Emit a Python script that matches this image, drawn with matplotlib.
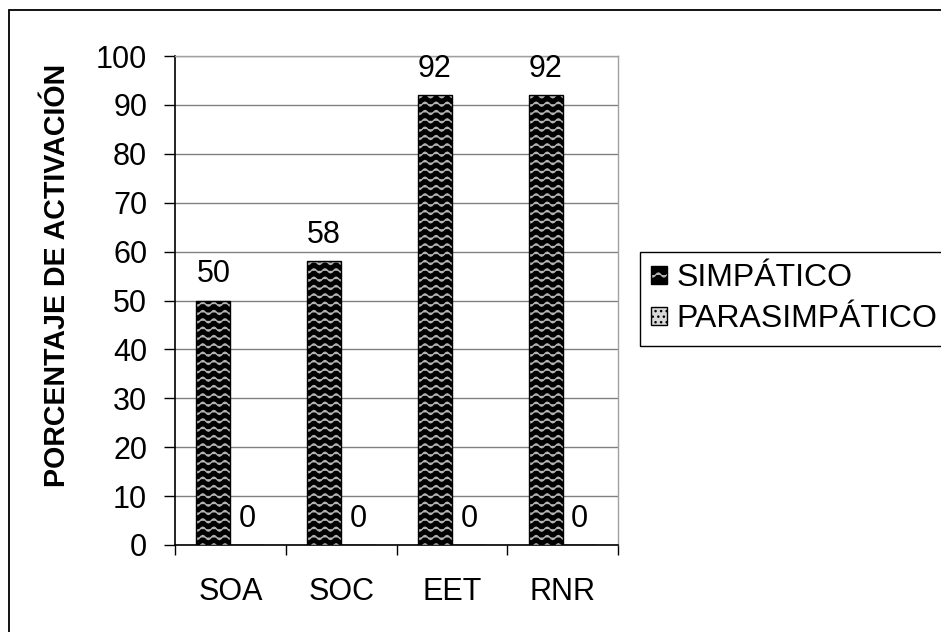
import numpy as np
import matplotlib
matplotlib.use("Agg")
import matplotlib.pyplot as plt
from matplotlib import hatch as mhatch
from matplotlib.path import Path
from matplotlib.patches import Patch, Rectangle

# ---- data ----
categories = ["SOA", "SOC", "EET", "RNR"]
simpatico = [50, 58, 92, 92]
parasimpatico = [0, 0, 0, 0]
series_names = ["SIMPÁTICO", "PARASIMPÁTICO"]
y_label = "PORCENTAJE DE ACTIVACIÓN"
y_ticks = list(range(0, 101, 10))

# ---- custom wavy hatch ----
class WaveHatch(mhatch.HatchPatternBase):
    def __init__(self, hatch, density):
        self.num_rows = int(hatch.count('w') * density)
        self.periods = 9
        self.pts = self.periods * 8 + 1
        self.num_vertices = self.num_rows * self.pts if self.num_rows else 0

    def set_vertices_and_codes(self, vertices, codes):
        xs = np.linspace(0.0, 1.0, self.pts)
        amp = 0.02
        for r in range(self.num_rows):
            y0 = (r + 0.5) / self.num_rows
            sl = slice(r * self.pts, (r + 1) * self.pts)
            vertices[sl, 0] = xs
            vertices[sl, 1] = y0 + amp * np.sin(2 * np.pi * self.periods * xs)
            codes[sl] = Path.LINETO
            codes[r * self.pts] = Path.MOVETO

mhatch._hatch_types.append(WaveHatch)
mhatch._validate_hatch_pattern = lambda h: None

plt.rcParams['font.family'] = ['Liberation Sans', 'DejaVu Sans']
plt.rcParams['hatch.linewidth'] = 1.0

FS = 22
W, H = 941, 632
fig = plt.figure(figsize=(W / 100, H / 100), dpi=100)
ax = fig.add_axes([175 / W, 1 - 545 / H, (618 - 175) / W, (545 - 56) / H])

x = np.arange(len(categories))
bw = 0.307
xs1 = x + 0.5 - bw / 2
xs2 = x + 0.5 + bw / 2

ax.bar(xs1, simpatico, bw, color='black', edgecolor='#b4b4b4', hatch='ww', linewidth=0, zorder=3)
ax.bar(xs1, simpatico, bw, fill=False, edgecolor='black', linewidth=1.0, zorder=4)
ax.bar(xs2, parasimpatico, bw, color='#d8d8d8', edgecolor='black', hatch='..', linewidth=1.0, zorder=3)

for xi, v in zip(xs1, simpatico):
    ax.annotate(str(v), (xi, v), xytext=(0, 13), textcoords='offset points',
                ha='center', va='baseline', fontsize=FS)
for xi, v in zip(xs2, parasimpatico):
    ax.annotate(str(v), (xi, v), xytext=(0, 13), textcoords='offset points',
                ha='center', va='baseline', fontsize=FS)

ax.set_xlim(0, len(categories))
ax.set_ylim(0, 100)
ax.set_yticks(y_ticks)
ax.set_yticklabels([str(t) for t in y_ticks], fontsize=FS)
ax.tick_params(axis='y', direction='out', length=8, width=1.0, pad=12)

ax.set_xticks(np.arange(len(categories) + 1))
ax.set_xticklabels([''] * (len(categories) + 1))
ax.set_xticks(x + 0.5, minor=True)
ax.set_xticklabels(categories, minor=True, fontsize=FS)
ax.tick_params(axis='x', which='major', direction='out', length=7.5, width=1.0)
ax.tick_params(axis='x', which='minor', length=0, pad=23)

ax.yaxis.grid(True, color='#808080', linewidth=1.0, zorder=0)
ax.set_axisbelow(True)
for s in ['left', 'bottom']:
    ax.spines[s].set_color('black')
    ax.spines[s].set_linewidth(1.2)
for s in ['top', 'right']:
    ax.spines[s].set_color('#a0a0a0')
    ax.spines[s].set_linewidth(1.0)

fig.text(57 / W, 1 - 275 / H, y_label, rotation=90, ha='center', va='center',
         fontsize=20.6, fontweight='bold')

h1 = (Patch(facecolor='black', edgecolor='#b4b4b4', hatch='w', linewidth=0),
      Patch(fill=False, edgecolor='black', linewidth=1.0))
h2 = Patch(facecolor='#d8d8d8', edgecolor='black', hatch='...', linewidth=1.0)
leg = fig.legend([h1, h2], series_names, loc='upper left',
                 bbox_to_anchor=(640 / W, 1 - 252 / H), borderaxespad=0, fontsize=23,
                 handlelength=0.5, handleheight=0.5, handletextpad=0.3,
                 labelspacing=0.35, borderpad=0.35, fancybox=False,
                 edgecolor='black', framealpha=1)
leg.get_frame().set_linewidth(1.0)

fig.add_artist(Rectangle((8.5 / W, -0.2), 1.2, 1.2 - 9.5 / H, transform=fig.transFigure,
                         fill=False, edgecolor='black', linewidth=1.3))

fig.savefig('out.png', dpi=100)
